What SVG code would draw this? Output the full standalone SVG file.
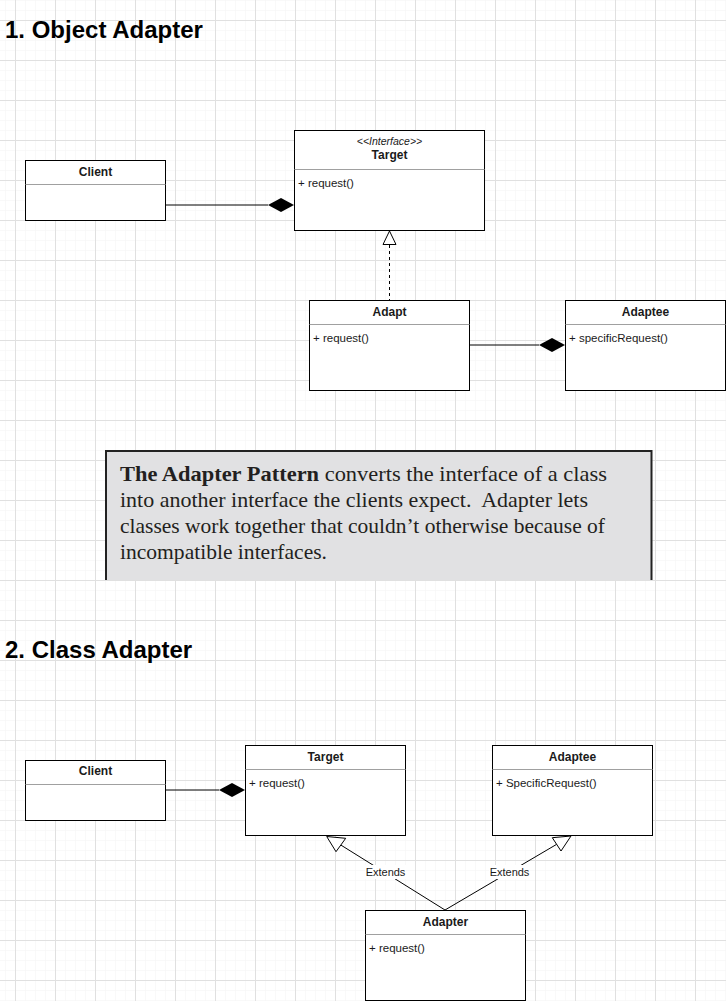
<svg xmlns="http://www.w3.org/2000/svg" width="726" height="1001" viewBox="0 0 726 1001">
<style>
.box{fill:#fff;stroke:#000;stroke-width:1}
.div{stroke:#a0a0a0;stroke-width:1}
.hdr{font-family:"Liberation Sans",Arial,sans-serif;font-size:12px;font-weight:bold;text-anchor:middle;fill:#1a1a1a}
.mem{font-family:"Liberation Sans",Arial,sans-serif;font-size:11.5px;fill:#1a1a1a}
.ster{font-family:"Liberation Sans",Arial,sans-serif;font-size:10.5px;font-style:italic;text-anchor:middle;fill:#1a1a1a}
.title{font-family:"Liberation Sans",Arial,sans-serif;font-size:24px;font-weight:bold;fill:#000}
.lbl{font-family:"Liberation Sans",Arial,sans-serif;font-size:11px;text-anchor:middle;fill:#1a1a1a}
.ln{stroke:#000;stroke-width:1;fill:none}
.para{font-family:"Liberation Serif","Times New Roman",serif;font-size:21px;fill:#231f20;white-space:pre}
</style>
<defs>
<pattern id="minor" x="5" y="0" width="10" height="10" patternUnits="userSpaceOnUse">
<path d="M0 0V10M0 0H10" stroke="#f3f3f3" stroke-width="1" fill="none"/>
</pattern>
<pattern id="major" x="15" y="20" width="40" height="40" patternUnits="userSpaceOnUse">
<path d="M0.5 0V40M0 0.5H40" stroke="#e0e0e0" stroke-width="1" fill="none"/>
</pattern>
</defs>
<rect width="726" height="1001" fill="#fff"/>
<rect width="726" height="1001" fill="url(#minor)"/>
<rect width="726" height="1001" fill="url(#major)"/>

<text class="title" x="5" y="38">1. Object Adapter</text>
<text class="title" x="5" y="658">2. Class Adapter</text>

<g id="connectors">
<line class="ln" x1="165" y1="205" x2="268" y2="205"/>
<polygon points="294,205 281,198 268,205 281,212" fill="#000"/>
<line class="ln" x1="389.5" y1="245" x2="389.5" y2="300" stroke-dasharray="3,3"/>
<polygon points="389.5,231 396,244.5 383,244.5" fill="#fff" stroke="#000"/>
<line class="ln" x1="469" y1="345" x2="539" y2="345"/>
<polygon points="565,345 552,338 539,345 552,352" fill="#000"/>

<line class="ln" x1="165" y1="790" x2="219" y2="790"/>
<polygon points="245,790 232,783 219,790 232,797" fill="#000"/>
<line class="ln" x1="445" y1="910" x2="340.8" y2="845"/>
<polygon points="326.7,836.5 345.7,838.3 336,851.7" fill="#fff" stroke="#000"/>
<line class="ln" x1="445" y1="910" x2="556.7" y2="844.3"/>
<polygon points="571,836 552.3,837.7 561,851" fill="#fff" stroke="#000"/>
<rect x="365" y="865" width="41" height="14" fill="#fff"/>
<text class="lbl" x="385.5" y="876">Extends</text>
<rect x="489" y="865" width="41" height="14" fill="#fff"/>
<text class="lbl" x="509.5" y="876">Extends</text>
</g>

<g id="client1">
<rect class="box" x="25.5" y="160.5" width="140" height="60"/>
<line class="div" x1="25.5" y1="184.5" x2="165.5" y2="184.5"/>
<text class="hdr" x="95.5" y="175.5">Client</text>
</g>
<g id="target1">
<rect class="box" x="294.5" y="130.5" width="190" height="100"/>
<line class="div" x1="294.5" y1="169.5" x2="484.5" y2="169.5"/>
<text class="ster" x="389.5" y="145">&lt;&lt;Interface&gt;&gt;</text>
<text class="hdr" x="389.5" y="159">Target</text>
<text class="mem" x="298" y="186.5">+ request()</text>
</g>
<g id="adapt">
<rect class="box" x="309.5" y="300.5" width="160" height="90"/>
<line class="div" x1="309.5" y1="324.5" x2="469.5" y2="324.5"/>
<text class="hdr" x="389.5" y="315.5">Adapt</text>
<text class="mem" x="313" y="341.5">+ request()</text>
</g>
<g id="adaptee1">
<rect class="box" x="565.5" y="300.5" width="160" height="90"/>
<line class="div" x1="565.5" y1="324.5" x2="725.5" y2="324.5"/>
<text class="hdr" x="645.5" y="315.5">Adaptee</text>
<text class="mem" x="569" y="341.5">+ specificRequest()</text>
</g>

<g id="note">
<rect x="106" y="451" width="546" height="129" fill="#e1e1e3"/>
<path d="M106 580V451H651.5V580" fill="none" stroke="#222" stroke-width="2"/>
<text class="para" x="120" y="481" textLength="487" lengthAdjust="spacingAndGlyphs"><tspan font-weight="bold">The Adapter Pattern</tspan> converts the interface of a class</text>
<text class="para" x="120" y="507" textLength="468" lengthAdjust="spacingAndGlyphs">into another interface the clients expect.  Adapter lets</text>
<text class="para" x="120" y="533" textLength="485" lengthAdjust="spacingAndGlyphs">classes work together that couldn’t otherwise because of</text>
<text class="para" x="120" y="559" textLength="207" lengthAdjust="spacingAndGlyphs">incompatible interfaces.</text>
</g>

<g id="client2">
<rect class="box" x="25.5" y="760.5" width="140" height="60"/>
<line class="div" x1="25.5" y1="784.5" x2="165.5" y2="784.5"/>
<text class="hdr" x="95.5" y="775">Client</text>
</g>
<g id="target2">
<rect class="box" x="245.5" y="745.5" width="160" height="90"/>
<line class="div" x1="245.5" y1="769.5" x2="405.5" y2="769.5"/>
<text class="hdr" x="325.5" y="760.5">Target</text>
<text class="mem" x="249" y="786.5">+ request()</text>
</g>
<g id="adaptee2">
<rect class="box" x="492.5" y="745.5" width="160" height="90"/>
<line class="div" x1="492.5" y1="769.5" x2="652.5" y2="769.5"/>
<text class="hdr" x="572.5" y="760.5">Adaptee</text>
<text class="mem" x="496" y="786.5">+ SpecificRequest()</text>
</g>
<g id="adapter">
<rect class="box" x="365.5" y="910.5" width="160" height="90"/>
<line class="div" x1="365.5" y1="934.5" x2="525.5" y2="934.5"/>
<text class="hdr" x="445.5" y="925.5">Adapter</text>
<text class="mem" x="369" y="951.5">+ request()</text>
</g>
</svg>
